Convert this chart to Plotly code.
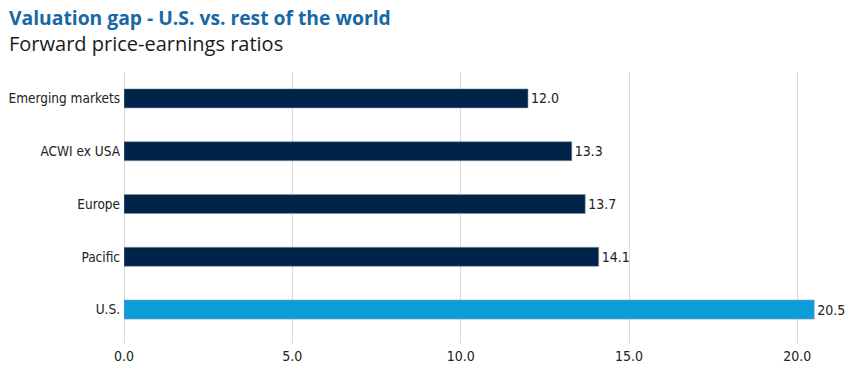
import plotly.graph_objects as go

categories = ["Emerging markets", "ACWI ex USA", "Europe", "Pacific", "U.S."]
values = [12.0, 13.3, 13.7, 14.1, 20.5]
bar_colors = ["#00234a", "#00234a", "#00234a", "#00234a", "#0d9dd9"]
x_ticks = [0, 5, 10, 15, 20]
x_tick_labels = ["0.0", "5.0", "10.0", "15.0", "20.0"]

W, H = 857, 369
ml, mr, mt, mb = 124, 26, 72, 33
pw = W - ml - mr
ph = H - mt - mb

cond = "DejaVu Sans Condensed, Liberation Sans Narrow, Roboto, sans-serif"

fig = go.Figure(go.Bar(
    x=values, y=categories, orientation="h",
    marker=dict(color=bar_colors, line=dict(color="#7f95ad", width=0.6)),
    width=0.36,
    text=[f"{v:.1f}" for v in values], textposition="outside",
    textfont=dict(family=cond, size=14, color="#222222"),
    cliponaxis=False,
))

fig.update_layout(
    width=W, height=H,
    margin=dict(l=ml, r=mr, t=mt, b=mb, autoexpand=False),
    plot_bgcolor="white", paper_bgcolor="white",
    showlegend=False,
    xaxis=dict(range=[0, 21], tickvals=x_ticks, ticktext=x_tick_labels,
               showgrid=True, gridcolor="#d9d9d9", gridwidth=1,
               zeroline=True, zerolinecolor="#d9d9d9", zerolinewidth=1,
               ticks="outside", ticklen=7, tickcolor="#d9d9d9",
               tickfont=dict(family=cond, size=14, color="#222222"),
               showline=False, fixedrange=True, automargin=False),
    yaxis=dict(autorange="reversed", ticks="", showline=False,
               tickfont=dict(family=cond, size=13.5, color="#222222"),
               ticklabelstandoff=3, automargin=False, fixedrange=True),
    annotations=[
        dict(text="<b>Valuation gap - U.S. vs. rest of the world</b>",
             xref="paper", yref="paper", x=(7 - ml) / pw, y=1 + (mt - 17) / ph,
             xanchor="left", yanchor="middle", showarrow=False,
             font=dict(family="Open Sans, sans-serif", size=19.3, color="#1668a6")),
        dict(text="Forward price-earnings ratios",
             xref="paper", yref="paper", x=(7 - ml) / pw, y=1 + (mt - 43) / ph,
             xanchor="left", yanchor="middle", showarrow=False,
             font=dict(family="Open Sans, sans-serif", size=20, color="#1a1a1a")),
    ],
)

fig.write_html("out.html", config={"displayModeBar": False},
               post_script="document.body.style.margin='0px';")
